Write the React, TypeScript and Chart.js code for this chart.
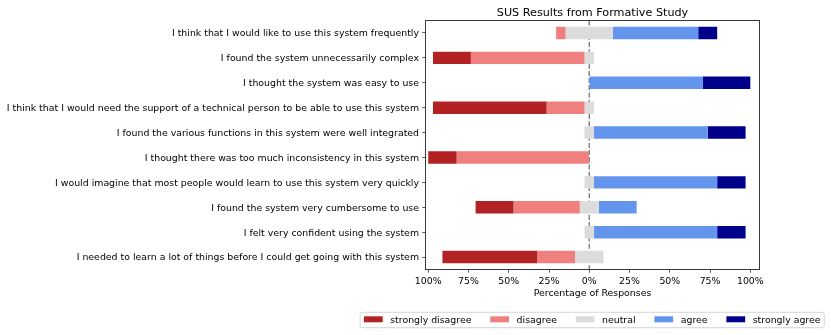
import React, { useEffect, useRef } from 'react';
import { Chart, registerables } from 'chart.js';

Chart.register(...registerables);

// ---------- data ----------
const questions = [
  'I think that I would like to use this system frequently',
  'I found the system unnecessarily complex',
  'I thought the system was easy to use',
  'I think that I would need the support of a technical person to be able to use this system',
  'I found the various functions in this system were well integrated',
  'I thought there was too much inconsistency in this system',
  'I would imagine that most people would learn to use this system very quickly',
  'I found the system very cumbersome to use',
  'I felt very confident using the system',
  'I needed to learn a lot of things before I could get going with this system',
];
// response counts per question (17 respondents)
const stronglyDisagree = [0, 4, 0, 12, 0, 3, 0, 4, 0, 10];
const disagree = [1, 12, 0, 4, 0, 14, 0, 7, 0, 4];
const neutral = [5, 1, 0, 1, 1, 0, 1, 2, 1, 3];
const agree = [9, 0, 12, 0, 12, 0, 13, 4, 13, 0];
const stronglyAgree = [2, 0, 5, 0, 4, 0, 3, 0, 3, 0];
const respondents = 17;

const levelNames = ['strongly disagree', 'disagree', 'neutral', 'agree', 'strongly agree'];
const levelColors = ['#B22222', '#F08080', '#DCDCDC', '#6495ED', '#00008B'];
const xTickValues = [-100, -75, -50, -25, 0, 25, 50, 75, 100];
const chartTitle = 'SUS Results from Formative Study';
const xAxisTitle = 'Percentage of Responses';

const FONT = '"DejaVu Sans"';
const FS = 9.4;
const TITLE_FS = 11.2;

function buildDatasets() {
  const levels = [stronglyDisagree, disagree, neutral, agree, stronglyAgree];
  const ranges: (number[] | null)[][] = levels.map(() => []);
  questions.forEach((_, i) => {
    const pct = levels.map((arr) => (arr[i] / respondents) * 100);
    let start = -(pct[0] + pct[1] + pct[2] / 2);
    pct.forEach((p, k) => {
      ranges[k].push(p > 0 ? [start, start + p] : null);
      start += p;
    });
  });
  return levelNames.map((name, k) => ({
    label: name,
    data: ranges[k],
    backgroundColor: levelColors[k],
    borderWidth: 0,
    barPercentage: 0.5,
    categoryPercentage: 1,
  }));
}

const decorPlugin = {
  id: 'decor',
  beforeDatasetsDraw(chart: any) {
    const { ctx, chartArea, scales } = chart;
    const x0 = scales.x.getPixelForValue(0);
    ctx.save();
    ctx.strokeStyle = '#808080';
    ctx.lineWidth = 1.4;
    ctx.setLineDash([5, 2.2]);
    ctx.beginPath();
    ctx.moveTo(x0, chartArea.top);
    ctx.lineTo(x0, chartArea.bottom);
    ctx.stroke();
    ctx.restore();
  },
  afterDraw(chart: any) {
    const { ctx, chartArea } = chart;
    ctx.save();
    // frame
    ctx.strokeStyle = '#3a3a3a';
    ctx.lineWidth = 1;
    ctx.strokeRect(chartArea.left, chartArea.top, chartArea.right - chartArea.left, chartArea.bottom - chartArea.top);
    // title
    ctx.fillStyle = '#000';
    ctx.font = `${TITLE_FS}px ${FONT}`;
    ctx.textAlign = 'center';
    ctx.textBaseline = 'alphabetic';
    ctx.fillText(chartTitle, (chartArea.left + chartArea.right) / 2, 15.5);
    // legend
    ctx.font = `${FS}px ${FONT}`;
    const widths = levelNames.map((n) => ctx.measureText(n).width);
    const pad = 0.4 * FS;
    const handleW = 2 * FS;
    const textPad = 0.8 * FS;
    const colSp = 2 * FS;
    const total = 2 * pad + levelNames.length * (handleW + textPad) + widths.reduce((a, b) => a + b, 0) + (levelNames.length - 1) * colSp;
    const boxRight = 824.3;
    const boxBottom = 327.7;
    const boxTop = 312.3;
    const boxLeft = boxRight - total;
    const r = 2;
    ctx.beginPath();
    ctx.moveTo(boxLeft + r, boxTop);
    ctx.lineTo(boxRight - r, boxTop);
    ctx.arcTo(boxRight, boxTop, boxRight, boxTop + r, r);
    ctx.lineTo(boxRight, boxBottom - r);
    ctx.arcTo(boxRight, boxBottom, boxRight - r, boxBottom, r);
    ctx.lineTo(boxLeft + r, boxBottom);
    ctx.arcTo(boxLeft, boxBottom, boxLeft, boxBottom - r, r);
    ctx.lineTo(boxLeft, boxTop + r);
    ctx.arcTo(boxLeft, boxTop, boxLeft + r, boxTop, r);
    ctx.closePath();
    ctx.fillStyle = '#fff';
    ctx.fill();
    ctx.strokeStyle = '#d6d6d6';
    ctx.lineWidth = 1;
    ctx.stroke();
    let x = boxLeft + pad;
    ctx.textAlign = 'left';
    ctx.textBaseline = 'alphabetic';
    levelNames.forEach((n, k) => {
      ctx.fillStyle = levelColors[k];
      ctx.fillRect(x, 316.3, handleW, 6);
      ctx.fillStyle = '#000';
      ctx.fillText(n, x + handleW + textPad, 322.8);
      x += handleW + textPad + widths[k] + colSp;
    });
    ctx.restore();
  },
};

export default function App() {
  const ref = useRef<HTMLCanvasElement>(null);
  useEffect(() => {
    if (!ref.current) return;
    Chart.defaults.font.family = FONT;
    Chart.defaults.font.size = FS;
    Chart.defaults.color = '#000';
    const chart = new Chart(ref.current, {
      type: 'bar',
      data: { labels: questions, datasets: buildDatasets() as any },
      options: {
        indexAxis: 'y',
        responsive: false,
        animation: false,
        events: [],
        layout: { padding: { left: 0, right: 71.5, top: 20.5, bottom: 35.4 } },
        plugins: { legend: { display: false }, title: { display: false }, tooltip: { enabled: false } },
        scales: {
          x: {
            type: 'linear',
            min: -101.7,
            max: 105.7,
            stacked: false,
            afterBuildTicks: (s: any) => {
              s.ticks = xTickValues.map((v) => ({ value: v }));
            },
            afterFit: (s: any) => {
              s.height = 30.1;
            },
            ticks: {
              callback: (v: any) => `${Math.abs(Number(v))}%`,
              padding: 3.2,
              maxRotation: 0,
              autoSkip: false,
              color: '#000',
              font: { size: FS, family: FONT },
            },
            grid: { drawOnChartArea: false, drawTicks: true, tickLength: 3.24, color: '#333', lineWidth: 0.8 },
            border: { display: false },
            title: { display: true, text: xAxisTitle, padding: 0, color: '#000', font: { size: FS, family: FONT } },
          },
          y: {
            type: 'category',
            stacked: true,
            afterFit: (s: any) => {
              s.width = 425.5;
            },
            ticks: { padding: 3.24, labelOffset: 1, autoSkip: false, color: '#000', font: { size: FS, family: FONT } },
            grid: { drawOnChartArea: false, drawTicks: true, tickLength: 3.24, offset: false, color: '#333', lineWidth: 0.8 },
            border: { display: false },
          },
        },
      },
      plugins: [decorPlugin],
    });
    return () => chart.destroy();
  }, []);
  return (
    <canvas
      ref={ref}
      width={831}
      height={335}
      style={{ position: 'absolute', left: 0, top: 0, width: 831, height: 335, display: 'block' }}
    />
  );
}
